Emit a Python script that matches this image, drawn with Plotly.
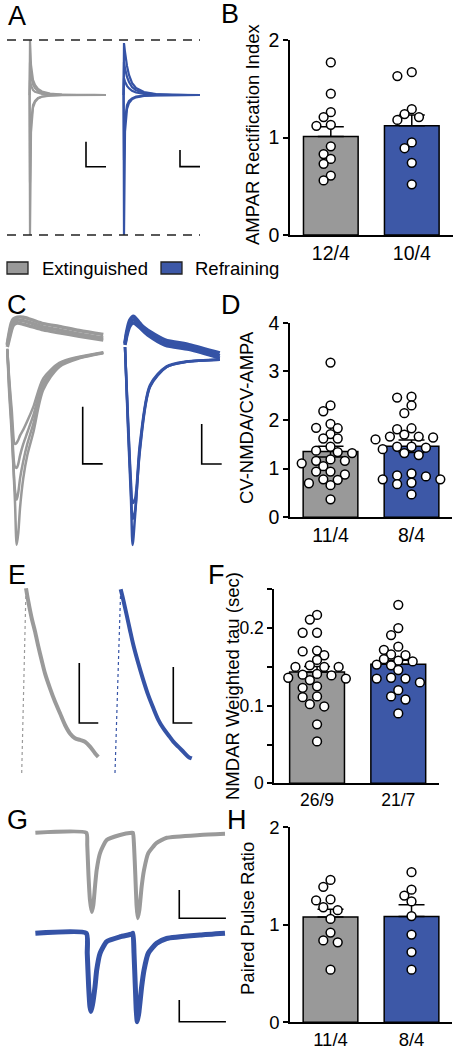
import plotly.graph_objects as go

W, H = 459, 1050
FONT = "Arial, Liberation Sans, sans-serif"
GRAY = "#999999"
BLUE = "#3D58A7"
TGRAY = "#9A9A9A"
TBLUE = "#3553A6"

# ---------------- bar-chart data ----------------
groups = ["Extinguished", "Refraining"]

b_ticks = ["12/4", "10/4"]
b_mean = [1.01, 1.12]
b_sem = [0.10, 0.11]
b_ext = [1.77, 1.45, 1.26, 1.21, 1.13, 1.12, 0.91, 0.83, 0.78, 0.73, 0.61, 0.56]
b_ref = [1.67, 1.63, 1.29, 1.24, 1.21, 1.18, 0.95, 0.89, 0.74, 0.52]

d_ticks = ["11/4", "8/4"]
d_mean = [1.35, 1.46]
d_sem = [0.11, 0.13]
d_ext = [3.18, 2.30, 2.18, 1.92, 1.84, 1.83, 1.71, 1.62, 1.62, 1.45, 1.37, 1.34, 1.32,
         1.19, 1.16, 1.16, 1.11, 1.05, 0.94, 0.94, 0.88, 0.78, 0.77, 0.70, 0.66, 0.37]
d_ref = [2.48, 2.46, 2.30, 2.14, 1.83, 1.81, 1.70, 1.66, 1.66, 1.64, 1.60, 1.45, 1.45,
         1.43, 1.40, 1.32, 1.28, 0.90, 0.86, 0.84, 0.78, 0.78, 0.71, 0.68, 0.47]

f_ticks = ["26/9", "21/7"]
f_mean = [0.1435, 0.1535]
f_sem = [0.007, 0.005]
f_ext = [0.217, 0.211, 0.194, 0.194, 0.171, 0.170, 0.165, 0.159, 0.152, 0.150, 0.150, 0.150, 0.141,
         0.140, 0.139, 0.136, 0.135, 0.133, 0.125, 0.123, 0.112, 0.111, 0.102, 0.099, 0.076, 0.054]
f_ref = [0.230, 0.200, 0.191, 0.176, 0.172, 0.166, 0.165, 0.160, 0.158, 0.157, 0.153, 0.152, 0.146,
         0.136, 0.135, 0.135, 0.130, 0.120, 0.112, 0.108, 0.090]

h_ticks = ["11/4", "8/4"]
h_mean = [1.08, 1.085]
h_sem = [0.08, 0.12]
h_ext = [1.46, 1.39, 1.26, 1.25, 1.18, 1.15, 1.06, 0.92, 0.84, 0.82, 0.54]
h_ref = [1.54, 1.36, 1.30, 1.24, 1.09, 0.90, 0.72, 0.54]

# ---------------- example traces (ms, pA) ----------------
# A: rectification sweeps
a_t = [-0.2, 0, 0.5, 1, 1.5, 2.5, 4, 6, 10, 16, 24, 32, 38]
a_ext_sweeps = [
    [0, 220, 120, 80, 60, 40, 24, 14, 6, 2, 0, 1, 0],
    [0, 130, 80, 55, 42, 28, 16, 9, 4, 1, 0, 0, 0],
    [0, 60, 38, 26, 20, 13, 8, 4, 2, 0, 0, 0, 0],
    [0, -350, -110, -60, -40, -24, -12, -6, -2, 0, 0, 0, 0],
    [0, -560, -150, -80, -50, -28, -14, -7, -3, -1, 0, 0, 0],
]
a_ref_sweeps = [
    [0, 312, 258, 210, 174, 120, 72, 42, 18, 6, 0, 0, 0],
    [0, 200, 160, 130, 108, 78, 48, 28, 12, 4, 0, 0, 0],
    [0, 100, 80, 66, 55, 40, 25, 15, 6, 2, 0, 0, 0],
    [0, -390, -150, -90, -60, -36, -20, -10, -4, -1, 0, 0, 0],
    [0, -840, -220, -130, -84, -48, -26, -14, -5, -2, 0, 0, 0],
]

# C: NMDA (outward) and AMPA (inward) sweeps
c_ext_nmda_t = [0, 5, 10, 15, 25, 40, 60, 90, 130, 180, 240]
c_ext_nmda = [
    [3, 21, 37, 44, 47, 46, 42, 35, 30, 23, 16],
    [0, 14, 28, 38, 42, 40, 36, 30, 25, 19, 12],
    [5, 26, 42, 49, 52, 52, 48, 41, 36, 29, 22],
]
c_ext_ampa_t = [0, 5, 11, 19, 23.5, 27.5, 32, 40, 50, 65, 90, 130, 180, 240]
c_ext_ampa = [
    [-5, -84, -151, -268, -347, -326, -281, -230, -190, -150, -75, -35, -20, -11],
    [-5, -75, -140, -250, -268, -255, -230, -200, -170, -135, -68, -32, -19, -10],
    [-4, -65, -125, -210, -212, -205, -190, -170, -150, -120, -62, -30, -18, -10],
    [-3, -58, -110, -170, -168, -163, -155, -145, -130, -105, -55, -28, -17, -9],
]
c_ref_nmda_t = [0, 5, 12, 21, 35, 60, 100, 160, 237]
c_ref_nmda = [
    [10, 42, 67, 77, 62, 35, 10, 0, -22],
    [5, 30, 52, 60, 50, 28, 5, -6, -28],
    [8, 36, 58, 68, 58, 40, 18, 6, -15],
]
c_ref_ampa_t = [0, 8, 15, 19, 25, 37.5, 62.5, 104, 154, 237]
c_ref_ampa = [
    [0, -215, -382, -495, -425, -257, -100, -50, -37, -32],
    [0, -200, -360, -430, -410, -250, -98, -50, -37, -32],
    [0, -190, -340, -390, -380, -240, -95, -48, -36, -31],
]

# E: NMDA decay
e_ext_t = [0, 22.6, 34.7, 52.6, 70, 87.4, 105, 122.6, 149, 175, 201.6, 228, 254, 280.5, 307, 333, 359.5, 385.8, 403]
e_ext_i = [0, 308, 286, 258, 236, 211, 188, 166, 141, 119, 99.5, 80, 66, 58, 55, 52, 44, 33, 27]
e_ref_t = [0, 30, 43.7, 61.6, 79, 96.3, 122.6, 149, 175, 201.6, 228, 254, 280.5, 307, 333, 359.5, 386, 404]
e_ref_i = [0, 328, 309, 282, 255, 229, 196, 166, 139, 116, 95, 80, 68, 56, 47, 38, 29, 26]

# G: paired pulse
g_ext_t = [-55, -0.4, 0.6, 1.9, 3.5, 5.4, 7.1, 8.9, 10.7, 14.3, 21.4, 35.7, 48.2,
           49.6, 50.7, 52.1, 53.4, 54.6, 56.4, 58.9, 61.4, 66, 75, 85.7, 121.4, 148.2]
g_ext_i = [0, 0, -22, -75, -119, -140, -128, -95, -66, -36, -13, -4, 0,
           0, -22, -75, -128, -151, -137, -95, -66, -36, -18, -9, -4, -2]
g_ref_t = [-55, -0.4, 0.6, 2.1, 3.5, 4.6, 6.2, 8.9, 10.7, 14.3, 21.4, 35.7, 48.2,
           49.6, 50.7, 52.1, 53.1, 54.2, 56.0, 58.9, 61.4, 66, 75, 85.7, 121.4, 148.2]
g_ref_i = [0, 0, -46, -123, -169, -180, -165, -123, -85, -46, -19, -8, -2,
           0, -46, -123, -177, -204, -181, -123, -85, -46, -23, -12, -4, 0]

# scale bars: (size in ms, size in pA)
a_bar = (10, 100)
c_bar = (50, 100)
e_bar = (100, 100)
g_bar = (50, 50)

# ---------------- helpers ----------------
fig = go.Figure()
layout = {}
annotations = []
shapes = []


def xdom(a, b):
    return [a / W, b / W]


def ydom(top, bot):
    return [1 - bot / H, 1 - top / H]


def add_axes(i, xd, yd, xr, yr):
    s = "" if i == 1 else str(i)
    layout["xaxis" + s] = dict(domain=xd, range=xr, anchor="y" + s, visible=False, fixedrange=True)
    layout["yaxis" + s] = dict(domain=yd, range=yr, anchor="x" + s, visible=False, fixedrange=True)
    return "x" + s, "y" + s, "xaxis" + s, "yaxis" + s


def line(xa, ya, x, y, color, width, dash=None, smooth=None):
    ln = dict(color=color, width=width, dash=dash)
    if smooth:
        ln.update(shape="spline", smoothing=smooth)
    fig.add_trace(go.Scatter(x=x, y=y, mode="lines", xaxis=xa, yaxis=ya, line=ln,
                             showlegend=False, hoverinfo="skip"))


def scalebar(xa, ya, x0, y0, size):
    dx, dy = size
    line(xa, ya, [x0, x0, x0 + dx], [y0 + dy, y0, y0], "black", 1.6)


def swarm(vals, ppu_y, ppu_x, step=7.2, diam=8.2):
    placed = []
    offs = [0.0] * len(vals)
    order = sorted(range(len(vals)), key=lambda i: -vals[i])
    ks = [0]
    for k in range(1, 14):
        ks += [-k, k]
    for i in order:
        y = vals[i] * ppu_y
        x = 0.0
        for k in ks:
            x = k * step
            if all((x - px) ** 2 + (y - py) ** 2 >= diam ** 2 for px, py in placed):
                break
        placed.append((x, y))
        offs[i] = x / ppu_x
    return offs


def bar_panel(i, xpx, ypx, xr, yr, ticks, mean, sem, ext, ref, symmetric,
              tickvals, ticktext, tickfont, title, title_x, title_y):
    xa, ya, xk, yk = add_axes(i, xdom(*xpx), ydom(*ypx), xr, yr)
    layout[xk].update(visible=True, showline=True, linecolor="black", linewidth=1.5,
                      ticks="", ticklen=0, tickvals=[0, 1], ticktext=ticks, showgrid=False, zeroline=False,
                      tickfont=dict(size=tickfont, color="black", family=FONT))
    layout[yk].update(visible=True, showline=True, linecolor="black", linewidth=1.5,
                      ticks="outside", ticklen=5, tickwidth=1.5, tickcolor="black",
                      tickvals=tickvals, ticktext=ticktext, showgrid=False, zeroline=False,
                      tickfont=dict(size=tickfont, color="black", family=FONT))
    err = dict(type="data", array=sem, color="black", thickness=1.5, width=13)
    if symmetric:
        err["symmetric"] = True
    else:
        err["symmetric"] = False
        err["arrayminus"] = [0, 0]
    fig.add_trace(go.Bar(x=[0, 1], y=mean, width=0.675, xaxis=xa, yaxis=ya,
                         marker=dict(color=[GRAY, BLUE], line=dict(color="black", width=1.5)),
                         error_y=err, showlegend=False, hoverinfo="skip"))
    ppu_y = (ypx[1] - ypx[0]) / (yr[1] - yr[0])
    ppu_x = (xpx[1] - xpx[0]) / (xr[1] - xr[0])
    for g, vals in enumerate([ext, ref]):
        offs = swarm(vals, ppu_y, ppu_x)
        fig.add_trace(go.Scatter(x=[g + o for o in offs], y=vals, mode="markers", xaxis=xa, yaxis=ya,
                                 marker=dict(size=8.8, color="white", line=dict(color="black", width=1.5)),
                                 cliponaxis=False, showlegend=False, hoverinfo="skip"))
    annotations.append(dict(text=title, x=title_x / W, y=1 - title_y / H, xref="paper", yref="paper",
                            textangle=-90, showarrow=False, xanchor="center", yanchor="middle",
                            font=dict(size=18.5, color="black", family=FONT)))


# ---------------- bar panels ----------------
bar_panel(1, (290, 453), (40, 235), [-0.504, 1.509], [0, 2], b_ticks, b_mean, b_sem, b_ext, b_ref,
          False, [0, 1, 2], ["0", "1", "2"], 19.5, "AMPAR Rectification Index", 252, 135)
bar_panel(2, (290, 451.7), (322.7, 517.3), [-0.5, 1.496], [0, 4], d_ticks, d_mean, d_sem, d_ext, d_ref,
          True, [0, 1, 2, 3, 4], ["0", "1", "2", "3", "4"], 19.5, "CV-NMDA/CV-AMPA", 247, 418)
bar_panel(3, (274, 439.3), (589.3, 783.3), [-0.53, 1.505], [0, 0.25], f_ticks, f_mean, f_sem, f_ext, f_ref,
          False, [0, 0.05, 0.1, 0.15, 0.2, 0.25], ["0", "", "0.1", "", "0.2", ""], 17.5,
          "NMDAR Weighted tau (sec)", 232, 686)
bar_panel(4, (290, 451.7), (827.3, 1022.3), [-0.5, 1.496], [0, 2], h_ticks, h_mean, h_sem, h_ext, h_ref,
          False, [0, 1, 2], ["0", "1", "2"], 18.5, "Paired Pulse Ratio", 247, 919)

# ---------------- A ----------------
xa, ya, _, _ = add_axes(5, xdom(15, 112), ydom(35, 240), [-7.5, 41], [-580, 240])
for sw in a_ext_sweeps:
    line(xa, ya, a_t, sw, TGRAY, 2.2)
scalebar(xa, ya, 28, -287, a_bar)
top = max(max(s) for s in a_ext_sweeps)
bot = min(min(s) for s in a_ext_sweeps)
for yv in (top, bot):
    shapes.append(dict(type="line", xref="paper", yref=ya, x0=7 / W, x1=200 / W, y0=yv, y1=yv,
                       line=dict(color="#222222", width=1.3, dash="9px,7px")))
xa, ya, _, _ = add_axes(6, xdom(114, 205), ydom(35, 240), [-5, 40.5], [-870, 360])
for sw in a_ref_sweeps:
    line(xa, ya, a_t, sw, TBLUE, 2.2)
scalebar(xa, ya, 28, -430, a_bar)

# ---------------- C ----------------
xa, ya, _, _ = add_axes(7, xdom(3, 110), ydom(300, 555), [-10.75, 256.75], [-364.8, 82.4])
for sw in c_ext_nmda:
    line(xa, ya, c_ext_nmda_t, sw, TGRAY, 3.5, smooth=0.8)
for sw in c_ext_ampa:
    line(xa, ya, c_ext_ampa_t, sw, TGRAY, 2.5, smooth=0.8)
scalebar(xa, ya, 188.5, -205, c_bar)
xa, ya, _, _ = add_axes(8, xdom(118, 225), ydom(300, 555), [-17.5, 250], [-520, 117.5])
for sw in c_ref_nmda:
    line(xa, ya, c_ref_nmda_t, sw, TBLUE, 3.5, smooth=0.8)
for sw in c_ref_ampa:
    line(xa, ya, c_ref_ampa_t, sw, TBLUE, 2.5, smooth=0.8)
scalebar(xa, ya, 191.75, -292.5, c_bar)

# ---------------- E ----------------
xa, ya, _, _ = add_axes(9, xdom(15, 105), ydom(580, 780), [-35.3, 438.4], [-11.7, 321.7])
line(xa, ya, e_ext_t[:2], e_ext_i[:2], TGRAY, 1.2, "dot")
line(xa, ya, e_ext_t[1:], e_ext_i[1:], TGRAY, 4, smooth=0.8)
scalebar(xa, ya, 303, 83.3, e_bar)
xa, ya, _, _ = add_axes(10, xdom(108, 200), ydom(580, 780), [-36.8, 447.4], [-12.5, 344.7])
line(xa, ya, e_ref_t[:2], e_ref_i[:2], TBLUE, 1.2, "dot")
line(xa, ya, e_ref_t[1:], e_ref_i[1:], TBLUE, 4, smooth=0.8)
scalebar(xa, ya, 306.8, 89.3, e_bar)

# ---------------- G ----------------
xa, ya, _, _ = add_axes(11, xdom(30, 232), ydom(822, 925), [-60.75, 155.7], [-163.1, 18.9])
line(xa, ya, g_ext_t, g_ext_i, TGRAY, 4, smooth=0.5)
scalebar(xa, ya, 99.2, -151.3, g_bar)
xa, ya, _, _ = add_axes(12, xdom(30, 232), ydom(925, 1030), [-60.75, 155.7], [-222.8, 19.1])
line(xa, ya, g_ref_t, g_ref_i, TBLUE, 5, smooth=0.5)
scalebar(xa, ya, 99.2, -203.7, g_bar)

# ---------------- legend ----------------
for (x0, x1, col), (tx, label) in zip([(7, 28, GRAY), (161, 182, BLUE)], [(40, groups[0]), (193, groups[1])]):
    shapes.append(dict(type="rect", xref="paper", yref="paper", x0=x0 / W, x1=x1 / W,
                       y0=1 - 274 / H, y1=1 - 262 / H, fillcolor=col, line=dict(color="#222222", width=1.3)))
    annotations.append(dict(text=label, x=tx / W, y=1 - 268 / H, xref="paper", yref="paper", showarrow=False,
                            xanchor="left", yanchor="middle", font=dict(size=18.5, color="black", family=FONT)))

# ---------------- panel letters ----------------
for letter, x, y in [("A", 6, 15), ("B", 219, 13), ("C", 5, 304), ("D", 219, 304),
                     ("E", 6, 574), ("F", 206, 574), ("G", 5, 819), ("H", 225, 819)]:
    annotations.append(dict(text=letter, x=x / W, y=1 - (y + 1) / H, xref="paper", yref="paper",
                            showarrow=False, xanchor="left", yanchor="middle",
                            font=dict(size=27, color="black", family=FONT)))

fig.update_layout(width=W, height=H, margin=dict(l=0, r=0, t=0, b=0, autoexpand=False),
                  paper_bgcolor="white", plot_bgcolor="white", barmode="overlay",
                  showlegend=False, font=dict(family=FONT, color="black"),
                  annotations=annotations, shapes=shapes, **layout)

page_css = ("var s=document.documentElement.style;s.margin='0';s.padding='0';s.overflow='hidden';s.height='1050px';"
            "var b=document.body.style;b.margin='0';b.padding='0';b.overflow='hidden';b.height='1050px';")
fig.write_html("out.html", config={"displayModeBar": False}, post_script=page_css)
